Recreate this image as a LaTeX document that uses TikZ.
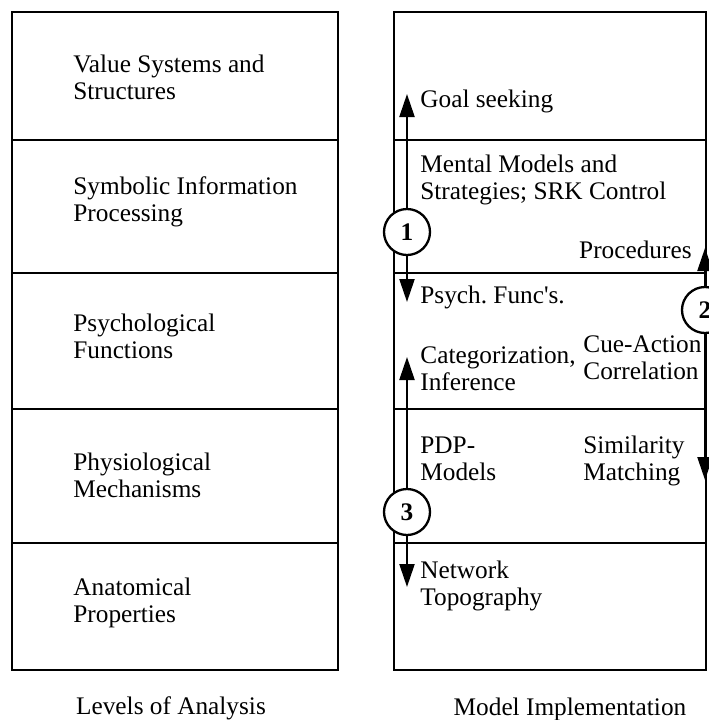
\documentclass[tikz,border=0pt]{standalone}
\usepackage{fontspec}
\setmainfont{Liberation Serif}
\usetikzlibrary{arrows.meta}
\frenchspacing
\begin{document}
\begin{tikzpicture}[x=0.5pt,y=-0.5pt,
  box/.style={line width=1.4pt},
  lbl/.style={anchor=base west,inner sep=0pt,align=left,font=\fontsize{12.65}{13.25}\selectfont},
  captxt/.style={anchor=base,inner sep=0pt,font=\fontsize{12.65}{13.25}\selectfont},
  num/.style={circle,draw,line width=1.15pt,fill=white,minimum size=23pt,inner sep=0pt,font=\fontsize{12.65}{13.25}\selectfont\bfseries},
  arr/.style={line width=1.1pt,-{Triangle[length=11.5pt,width=7.5pt]}}]
\useasboundingbox (0,0) rectangle (709,720);
\clip (0,0) rectangle (709,720);
% left box
\draw[box] (12,12) rectangle (338,670);
\foreach \yy in {140,273,409,543} \draw[box] (12,\yy) -- (338,\yy);
% right box
\draw[box] (394,12) rectangle (706,670);
\foreach \yy in {140,273,409,543} \draw[box] (394,\yy) -- (706,\yy);
% left labels (y = baseline of last line)
\node[lbl] (lv) at (73,99) {Value Systems and\\Structures};
\node[lbl] (ls) at (73,221) {Symbolic Information\\Processing};
\node[lbl] (lp) at (73,358) {Psychological\\Functions};
\node[lbl] (lm) at (73,497) {Physiological\\Mechanisms};
\node[lbl] (la) at (73,622) {Anatomical\\Properties};
% right labels
\node[lbl] (rg) at (420,107) {Goal seeking};
\node[lbl] (rm) at (420,199) {Mental Models and\\Strategies; SRK Control};
\node[lbl,anchor=base east] (rp) at (692,258) {Procedures};
\node[lbl] (rf) at (420,303) {Psych. Func\textquotesingle s.};
\node[lbl] (rc) at (420,390) {Categorization,\\Inference};
\node[lbl] (rq) at (583,379) {Cue-Action\\Correlation};
\node[lbl] (rd) at (420,480) {PDP-\\Models};
\node[lbl] (rs) at (583,480) {Similarity\\Matching};
\node[lbl] (rn) at (420,605) {Network\\Topography};
% captions
\node[captxt] (capl) at (171,714) {Levels of Analysis};
\node[captxt] (capr) at (570,715) {Model Implementation};
% arrows and circles
\node[num] (c1) at (407,232) {1};
\coordinate (a1t) at (407,94);
\coordinate (a1b) at (407,302);
\draw[arr] (c1) -- (a1t);
\draw[arr] (c1) -- (a1b);
\node[num] (c2) at (705,310) {2};
\coordinate (a2t) at (705,248);
\coordinate (a2b) at (705,480);
\draw[arr] (c2) -- (a2t);
\draw[arr] (c2) -- (a2b);
\node[num] (c3) at (407,512) {3};
\coordinate (a3t) at (407,357);
\coordinate (a3b) at (407,587);
\draw[arr] (c3) -- (a3t);
\draw[arr] (c3) -- (a3b);
\end{tikzpicture}
\end{document}
